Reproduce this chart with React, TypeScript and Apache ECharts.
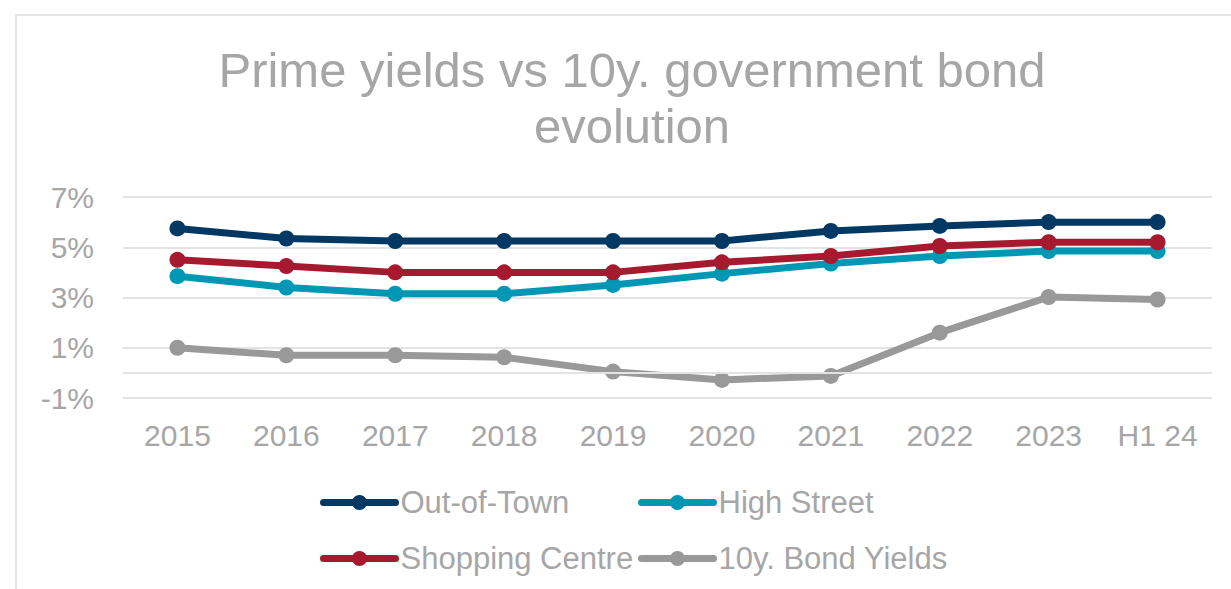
import { useEffect, useRef } from 'react';
import * as echarts from 'echarts';

const categories = ['2015', '2016', '2017', '2018', '2019', '2020', '2021', '2022', '2023', 'H1 24'];
const outOfTown = [5.75, 5.35, 5.25, 5.25, 5.25, 5.25, 5.65, 5.85, 6.0, 6.0];
const highStreet = [3.85, 3.4, 3.15, 3.15, 3.5, 3.95, 4.35, 4.65, 4.85, 4.85];
const shoppingCentre = [4.5, 4.25, 4.0, 4.0, 4.0, 4.4, 4.65, 5.05, 5.2, 5.2];
const bondYields = [1.0, 0.7, 0.7, 0.62, 0.05, -0.28, -0.12, 1.6, 3.02, 2.92];
const seriesNames = ['Out-of-Town', 'High Street', 'Shopping Centre', '10y. Bond Yields'];
const seriesColors = ['#023864', '#0097b5', '#a6192e', '#999999'];
const zeroLine = [0];

const FONT = '"Liberation Sans", Arial, sans-serif';
const TEXT = '#a6a6a6';
const GRID = '#e3e3e3';

export default function App() {
  const ref = useRef<HTMLDivElement>(null);
  useEffect(() => {
    if (!ref.current) return;
    const chart = echarts.init(ref.current, undefined, { renderer: 'svg' });
    const dataSets = [outOfTown, highStreet, shoppingCentre, bondYields];
    const legendPos = [
      { left: 320, top: 487 },
      { left: 638, top: 487 },
      { left: 320, top: 543 },
      { left: 638, top: 543 },
    ];
    chart.setOption({
      animation: false,
      backgroundColor: '#ffffff',
      textStyle: { fontFamily: FONT },
      graphic: [
        {
          type: 'rect',
          silent: true,
          shape: { x: 16, y: 15, width: 1240, height: 600 },
          style: { fill: 'none', stroke: '#e6e6e6', lineWidth: 2 },
        },
        {
          type: 'text',
          x: 632,
          y: 42,
          style: {
            text: 'Prime yields vs 10y. government bond\nevolution',
            fontSize: 49,
            fontFamily: FONT,
            fill: TEXT,
            align: 'center',
            verticalAlign: 'top',
            lineHeight: 56,
          },
        },
      ],
      grid: { left: 123, right: 19, top: 197, bottom: 191, containLabel: false },
      xAxis: {
        type: 'category',
        data: categories,
        boundaryGap: true,
        axisLine: { show: false },
        axisTick: { show: false },
        axisLabel: { color: TEXT, fontSize: 30, fontFamily: FONT, margin: 22, interval: 0 },
      },
      yAxis: {
        type: 'value',
        min: -1,
        max: 7,
        interval: 2,
        axisLine: { show: false },
        axisTick: { show: false },
        axisLabel: {
          color: TEXT,
          fontSize: 30,
          fontFamily: FONT,
          margin: 29,
          formatter: (v: number) => `${v}%`,
        },
        splitLine: { show: true, lineStyle: { color: GRID, width: 2 } },
      },
      legend: seriesNames.map((name, i) => ({
        data: [name],
        left: legendPos[i].left,
        top: legendPos[i].top,
        padding: 0,
        itemWidth: 72,
        itemHeight: 19,
        selectedMode: false,
        lineStyle: { width: 7, cap: 'round' },
        textStyle: { color: TEXT, fontSize: 31, fontFamily: FONT },
      })),
      series: [
        {
          type: 'line',
          name: 'zero',
          data: [],
          silent: true,
          z: 1,
          markLine: {
            silent: true,
            symbol: 'none',
            label: { show: false },
            lineStyle: { color: GRID, width: 2, type: 'solid' },
            data: zeroLine.map((v) => ({ yAxis: v })),
          },
        },
        ...seriesNames.map((name, i) => ({
          type: 'line',
          name,
          data: dataSets[i],
          symbol: 'circle',
          symbolSize: 16,
          z: 3,
          lineStyle: { width: 7, color: seriesColors[i] },
          itemStyle: { color: seriesColors[i] },
        })),
      ],
    });
    return () => chart.dispose();
  }, []);
  return (
    <div
      ref={ref}
      style={{ position: 'absolute', left: 0, top: 0, width: 1231, height: 589 }}
    />
  );
}
